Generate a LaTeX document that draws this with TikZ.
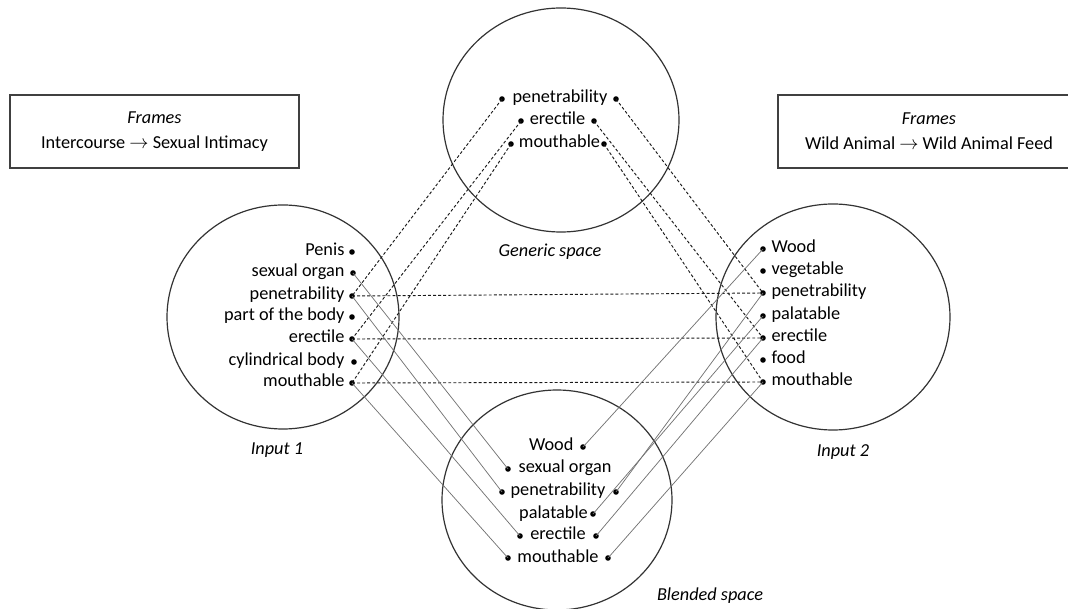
\documentclass[tikz,border=0pt]{standalone}
\usepackage{fontspec}
\setmainfont{Carlito}

\begin{document}
\begin{tikzpicture}[x=0.75pt,y=-0.75pt,
    font=\fontsize{13.7}{19}\selectfont,
    space/.style={draw=black!80, line width=0.9pt},
    spot/.style={circle, fill=black, inner sep=0pt, minimum size=4.2pt},
    item/.style={inner sep=1pt, text height=9pt, text depth=3pt},
    title/.style={font=\fontsize{13.7}{19}\selectfont\itshape},
    frame/.style={draw=black!75, line width=0.8pt, align=center, minimum height=54.75pt},
    genlink/.style={black!90, dashed, dash pattern=on 2.2pt off 1.6pt, line width=0.7pt},
    blendlink/.style={black!55, line width=0.55pt}]

\useasboundingbox (0,0) rectangle (1068,609);

% the four spaces
\draw[space] (561,120) ellipse (118 and 112);
\draw[space] (283,317) ellipse (116 and 112);
\draw[space] (833,317) ellipse (117 and 113);
\draw[space] (557,500) ellipse (115 and 110);

\node[title] (glab) at (550,252) {Generic space};
\node[title] (in1) at (277,450) {Input 1};
\node[title] (in2) at (843,452) {Input 2};
\node[title] (blab) at (710,596) {Blended space};

% frames
\node[frame, minimum width=216.75pt] (fleft) at (154.5,131.5) {\textit{Frames}\\Intercourse $\rightarrow$ Sexual Intimacy};
\node[frame, minimum width=226.5pt] (fright) at (929,131.5) {\textit{Frames}\\Wild Animal $\rightarrow$ Wild Animal Feed};

% generic space
\node[item] (gpen) at (560,99) {penetrability};
\node[spot] (gpenL) at (502,99) {};
\node[spot] (gpenR) at (616,99) {};
\node[item] (gerec) at (557.5,121) {erectile};
\node[spot] (gerecL) at (521,121) {};
\node[spot] (gerecR) at (594,121) {};
\node[item] (gmouth) at (559.5,144) {mouthable};
\node[spot] (gmouthL) at (511,144) {};
\node[spot] (gmouthR) at (604,144) {};

% input 1
\foreach \nm/\txt/\xx/\yy in {lpenis/Penis/352/252, lsex/sexual organ/353/273,
    lpen/penetrability/352/296, lpart/part of the body/352/317, lerec/erectile/352/339,
    lcyl/cylindrical body/354/362, lmouth/mouthable/352/383}
{
    \node[item, anchor=east] (\nm) at (346,\yy) {\txt};
    \node[spot] (\nm-d) at (\xx,\yy) {};
}

% input 2
\foreach \nm/\txt/\yy in {rwood/Wood/249, rveg/vegetable/271, rpen/penetrability/293,
    rpal/palatable/316, rerec/erectile/338, rfood/food/360, rmouth/mouthable/382}
{
    \node[item, anchor=west] (\nm) at (770,\yy) {\txt};
    \node[spot] (\nm-d) at (763,\yy) {};
}

% blended space
\node[item, anchor=east] (bwood) at (575,447) {Wood};
\node[spot] (bwoodR) at (583,447) {};
\node[item] (bsex) at (565,469) {sexual organ};
\node[spot] (bsexL) at (508,469) {};
\node[item] (bpen) at (558,492) {penetrability};
\node[spot] (bpenL) at (502,492) {};
\node[spot] (bpenR) at (616,492) {};
\node[item] (bpal) at (553.5,514) {palatable};
\node[spot] (bpalR) at (593,514) {};
\node[item] (berec) at (558,536) {erectile};
\node[spot] (berecL) at (520,536) {};
\node[spot] (berecR) at (596,536) {};
\node[item] (bmouth) at (558,558) {mouthable};
\node[spot] (bmouthL) at (508,558) {};
\node[spot] (bmouthR) at (608,558) {};

% generic links
\draw[genlink] (gpenL.center) -- (lpen-d.center);
\draw[genlink] (gerecL.center) -- (lerec-d.center);
\draw[genlink] (gmouthL.center) -- (lmouth-d.center);
\draw[genlink] (gpenR.center) -- (rpen-d.center);
\draw[genlink] (gerecR.center) -- (rerec-d.center);
\draw[genlink] (gmouthR.center) -- (rmouth-d.center);
\draw[genlink] (lpen-d.center) -- (rpen-d.center);
\draw[genlink] (lerec-d.center) -- (rerec-d.center);
\draw[genlink] (lmouth-d.center) -- (rmouth-d.center);

% projections into the blend
\draw[blendlink] (lsex-d.center) -- (bsexL.center);
\draw[blendlink] (lpen-d.center) -- (bpenL.center);
\draw[blendlink] (lerec-d.center) -- (berecL.center);
\draw[blendlink] (lmouth-d.center) -- (bmouthL.center);
\draw[blendlink] (rwood-d.center) -- (bwoodR.center);
\draw[blendlink] (rpen-d.center) -- (bpenR.center);
\draw[blendlink] (rpal-d.center) -- (bpalR.center);
\draw[blendlink] (rerec-d.center) -- (berecR.center);
\draw[blendlink] (rmouth-d.center) -- (bmouthR.center);
\end{tikzpicture}
\end{document}
